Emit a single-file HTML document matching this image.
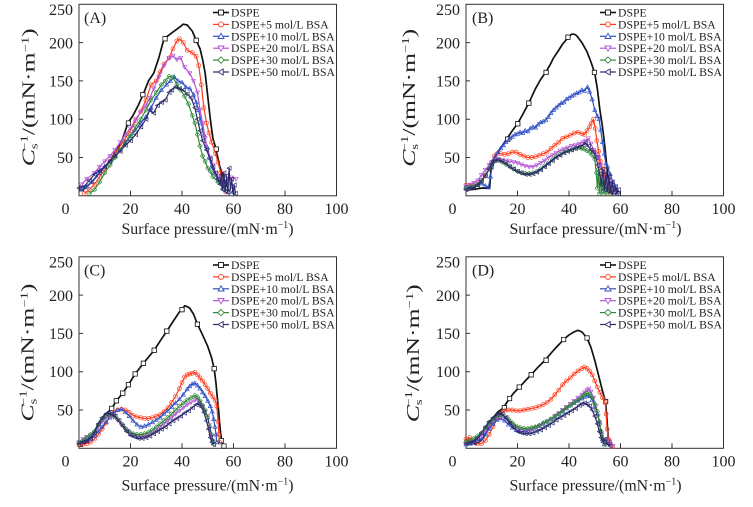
<!DOCTYPE html>
<html><head><meta charset="utf-8"><style>
html,body{margin:0;padding:0;background:#fff;}
svg{display:block;}
text{font-family:"Liberation Serif","Times New Roman",serif;fill:#222;}
.d polyline{fill:none;vector-effect:non-scaling-stroke;stroke-linejoin:round;stroke-width:1.2;}
.d polyline.k{stroke:#111;stroke-width:1.7;}
.d polyline.r{stroke:#ff3a1a;marker:url(#mR);}
.d polyline.b{stroke:#2f4fc4;marker:url(#mB);}
.d polyline.p{stroke:#b455d6;marker:url(#mP);}
.d polyline.g{stroke:#2e8a36;marker:url(#mG);}
.d polyline.n{stroke:#2c2a6e;marker:url(#mN);}
.d polyline.km{stroke:none;marker:url(#mK);}
.lg text{font-size:11.7px;}
.tk{font-size:16px;}
</style></head><body>
<svg width="753" height="507" viewBox="0 0 753 507" xmlns="http://www.w3.org/2000/svg">
<defs>
<marker id="mK" viewBox="0 0 10 10" refX="5" refY="5" markerUnits="userSpaceOnUse" markerWidth="2.136" markerHeight="7.18" preserveAspectRatio="none"><rect x="1" y="1" width="8" height="8" fill="#fff" stroke="#111" stroke-width="1.5"/></marker>
<marker id="mR" viewBox="0 0 10 10" refX="5" refY="5" markerUnits="userSpaceOnUse" markerWidth="1.94" markerHeight="6.53" preserveAspectRatio="none"><circle cx="5" cy="5" r="4" fill="none" stroke="#ff3a1a" stroke-width="1.3"/></marker>
<marker id="mB" viewBox="0 0 10 10" refX="5" refY="5" markerUnits="userSpaceOnUse" markerWidth="1.94" markerHeight="6.53" preserveAspectRatio="none"><polygon points="5,9.5 0.8,2 9.2,2" fill="none" stroke="#2f4fc4" stroke-width="1.3"/></marker>
<marker id="mP" viewBox="0 0 10 10" refX="5" refY="5" markerUnits="userSpaceOnUse" markerWidth="1.94" markerHeight="6.53" preserveAspectRatio="none"><polygon points="5,0.5 0.8,8 9.2,8" fill="none" stroke="#b455d6" stroke-width="1.3"/></marker>
<marker id="mG" viewBox="0 0 10 10" refX="5" refY="5" markerUnits="userSpaceOnUse" markerWidth="1.94" markerHeight="6.53" preserveAspectRatio="none"><polygon points="5,0.4 9.6,5 5,9.6 0.4,5" fill="none" stroke="#2e8a36" stroke-width="1.3"/></marker>
<marker id="mN" viewBox="0 0 10 10" refX="5" refY="5" markerUnits="userSpaceOnUse" markerWidth="1.94" markerHeight="6.53" preserveAspectRatio="none"><polygon points="0.5,5 9,0.8 9,9.2" fill="none" stroke="#2c2a6e" stroke-width="1.3"/></marker>
<g id="legend" class="lg">
 <line x1="134" y1="8.2" x2="150" y2="8.2" stroke="#111" stroke-width="1.6"/><rect x="139.5" y="5.7" width="5" height="5" fill="#fff" stroke="#111" stroke-width="0.9"/>
 <text x="152" y="12.2">DSPE</text>
 <line x1="134" y1="20.1" x2="150" y2="20.1" stroke="#ff3a1a" stroke-width="1.2"/><circle cx="142" cy="20.1" r="2.5" fill="#fff" stroke="#ff3a1a" stroke-width="0.9"/>
 <text x="152" y="24.1">DSPE+5 mol/L BSA</text>
 <line x1="134" y1="32" x2="150" y2="32" stroke="#2f4fc4" stroke-width="1.2"/><polygon points="142,29 139,34.2 145,34.2" fill="#fff" stroke="#2f4fc4" stroke-width="0.9"/>
 <text x="152" y="36">DSPE+10 mol/L BSA</text>
 <line x1="134" y1="43.9" x2="150" y2="43.9" stroke="#b455d6" stroke-width="1.2"/><polygon points="142,46.9 139,41.7 145,41.7" fill="#fff" stroke="#b455d6" stroke-width="0.9"/>
 <text x="152" y="47.9">DSPE+20 mol/L BSA</text>
 <line x1="134" y1="55.8" x2="150" y2="55.8" stroke="#2e8a36" stroke-width="1.2"/><polygon points="142,52.6 145.2,55.8 142,59 138.8,55.8" fill="#fff" stroke="#2e8a36" stroke-width="0.9"/>
 <text x="152" y="59.8">DSPE+30 mol/L BSA</text>
 <line x1="134" y1="67.7" x2="150" y2="67.7" stroke="#2c2a6e" stroke-width="1.2"/><polygon points="139,67.7 144.2,64.7 144.2,70.7" fill="#fff" stroke="#2c2a6e" stroke-width="0.9"/>
 <text x="152" y="71.7" textLength="104" lengthAdjust="spacingAndGlyphs">DSPE+50 mol/L BSA</text>
</g>
<g id="frame">
 <rect x="0" y="0" width="257.5" height="191.5" fill="none" stroke="#333" stroke-width="1"/>
 <path d="M0,38.3h4M0,76.6h4M0,114.9h4M0,153.2h4M51.5,191.5v-5M103,191.5v-5M154.5,191.5v-5M206,191.5v-5" stroke="#333" stroke-width="1" fill="none"/>
 <text class="tk" x="-6" y="10.5" text-anchor="end">250</text>
 <text class="tk" x="-6" y="44" text-anchor="end">200</text>
 <text class="tk" x="-6" y="82" text-anchor="end">150</text>
 <text class="tk" x="-6" y="120.3" text-anchor="end">100</text>
 <text class="tk" x="-6" y="158.6" text-anchor="end">50</text>
 <text class="tk" x="-13.5" y="209.5" text-anchor="middle">0</text>
 <text class="tk" x="51.5" y="209.5" text-anchor="middle">20</text>
 <text class="tk" x="103" y="209.5" text-anchor="middle">40</text>
 <text class="tk" x="154.5" y="209.5" text-anchor="middle">60</text>
 <text class="tk" x="206" y="209.5" text-anchor="middle">80</text>
 <text class="tk" x="257.5" y="209.5" text-anchor="middle">100</text>
</g>
</defs>
<rect width="753" height="507" fill="#fff"/>

<!-- Panel A -->
<g transform="translate(79,4.3)">
 <use href="#frame"/>
 <use href="#legend"/>
 <text x="5" y="18.5" font-size="16">(A)</text>
 <text x="128.5" y="229.7" font-size="16" text-anchor="middle" textLength="172" lengthAdjust="spacingAndGlyphs">Surface pressure/(mN·m<tspan font-size="10" dy="-6">−1</tspan><tspan dy="6">)</tspan></text>
 <text transform="translate(-44.5,93) rotate(-90)" font-size="17.5" text-anchor="middle" textLength="138" lengthAdjust="spacingAndGlyphs"><tspan font-style="italic">C</tspan><tspan font-size="10" dy="3">s</tspan><tspan font-size="10" dx="-5" dy="-10">−1</tspan><tspan dy="7">/(mN·m</tspan><tspan font-size="10" dy="-6">−1</tspan><tspan dy="6">)</tspan></text>
 <g class="d" transform="translate(0,191.5) scale(2.575,-0.766)">
  <polyline class="k" points="0.5,10 2,9 3,12 5,18 8,30 10,38 12,45 15,62 17,75 19,95 21,105 23,118 25,133 27,150 29,160 31,180 33,205 35,210 37,215 39,220 40.5,224 42,223 44,215 45.5,203 47,192 48,178 49,160 50,130 51,100 52,75 53.3,60 54.5,40 56,25 57,15 58,10"/>
  <polyline class="km" points="1,10 19.2,95 24.8,132 33.4,205 45.5,203 53.3,61"/>
  <polyline class="r" points="2,3 4,8 6,15 8,25 10,34 12,45 14,55 16,65 18,75 20,85 22,98 24,110 26,125 28,145 30,150 31.5,162 33,172 35,180 36.5,192 38,202 39,205 40.5,200 42,190 44,187 45.5,182 46.5,170 47.5,145 48.5,115 49.5,95 50.5,82 51.5,70 53,55 54,44 55,30 56,15 57,5"/>
  <polyline class="b" points="1,8 3,12 5,18 8,30 10,38 12,45 14,52 16,60 18,70 20,78 22,86 24,95 26,103 28,115 30,128 32,138 34,145 35.5,150 37,155 38.5,150 40,148 41.5,142 43,140 44.5,132 45.5,122 46.5,112 47.5,95 48.5,80 49.5,65 50.5,50 51.5,38 52.5,30 54,20 56,12 58,5"/>
  <polyline class="p" points="1,15 3,22 6,30 8,38 10,45 12,52 14,60 16,70 18,80 20,88 22,100 24,110 26,118 27.5,128 29,140 31,155 33,170 35,180 36.5,183 38,178 39.5,180 41,168 43,160 44.5,150 46,135 47,112 48,95 49,75 50,60 51,50 52,40 53,30 54,25 55,20 56.5,18 58,22 59,24 61,22"/>
  <polyline class="g" points="4,3 6,8 8,18 10,30 12,40 14,50 16,60 18,68 20,78 22,90 24,100 26,112 28,125 30,135 32,145 33.5,150 35,156 36.5,155 38,145 39.5,138 41,130 42.5,120 44,105 45,95 46,80 47,65 48,52 49,45 50,36 51,32 52,25 54,18 56,10"/>
  <polyline class="n" points="0,10 2,12 4,20 6,28 8,33 10,38 12,45 14,52 16,58 18,66 20,72 22,80 24,90 26,100 27.5,112 29,108 30.5,118 32,122 33.5,125 35,135 36,138 37.5,142 39,140 40.5,138 42,133 43.5,128 45,115 46,100 47,85 48,72 49.5,60 51,48 52,38 53,30 54,22 54.8,15 55.3,28 55.8,8 56.3,30 56.8,6 57.3,26 57.8,4 58.3,36 58.8,8 59.3,22 59.8,4 60.3,14 60.8,3"/>
 </g>
</g>

<!-- Panel B -->
<g transform="translate(466,4.3)">
 <use href="#frame"/>
 <use href="#legend"/>
 <text x="6" y="18.5" font-size="16">(B)</text>
 <text x="129.5" y="229.7" font-size="16" text-anchor="middle" textLength="172" lengthAdjust="spacingAndGlyphs">Surface pressure/(mN·m<tspan font-size="10" dy="-6">−1</tspan><tspan dy="6">)</tspan></text>
 <text transform="translate(-51,93.5) rotate(-90)" font-size="17.5" text-anchor="middle" textLength="138" lengthAdjust="spacingAndGlyphs"><tspan font-style="italic">C</tspan><tspan font-size="10" dy="3">s</tspan><tspan font-size="10" dx="-5" dy="-10">−1</tspan><tspan dy="7">/(mN·m</tspan><tspan font-size="10" dy="-6">−1</tspan><tspan dy="6">)</tspan></text>
 <g class="d" transform="translate(0,191.5) scale(2.575,-0.766)">
  <polyline class="k" points="0,10 2,8 4,9 6,10 8,10 9.2,11 9.6,30 10,45 11,50 12,55 14,65 16,75 18,85 20,94 22,106 24.5,122 27,140 29,152 30.7,160 32.5,170 34,180 36,190 37.5,198 39.8,207 41,211 42,211 43,209 45,200 47,188 48.5,175 50,160 51,140 52,112 53,90 53.8,68 54.5,45 55.1,25 56,10 57,1"/>
  <polyline class="km" points="0.5,10 9.7,38 16.2,74 20.1,94 24.4,121 31.1,161 39.6,207 49.9,161"/>
  <polyline class="r" points="0,14 1.5,14 3,13 4.5,15 6,20 7.5,26 9,35 10,44 11,52 12,55 13.5,55 15,54 16.5,55 18,57 19.5,57 21,54 22.5,52 24,50 25.5,50 27,51 28.5,53 30,55 31.5,57 33,62 34.5,66 36,70 37.5,75 39,77 40.5,79 42,82 43.5,83 45,81 46,80 47,85 48,90 48.7,95 49.5,100 50.2,88 50.8,72 51.5,58 52.2,45 53,35 53.8,28 54.5,20 55.3,12 56,5"/>
  <polyline class="b" points="0,12 1.5,13 3,12 4.5,14 6,16 7.5,13 8.7,11 9.5,25 10.5,45 11.5,52 12.5,57 13.5,62 14.5,66 15.5,70 17,75 18,77 19,80 20,81 21,83 22,82 23,85 24,84 25,88 26,90 27,89 28,93 29,96 30,97 31,99 32,103 33,108 34,112 35,115 36,118 37,121 38,122 39,126 40,128 41,130 42,132 43,134 44,135 45,138 46,137 47.2,142 48,136 49,126 50,112 51,104 51.7,100 52.3,86 53,70 53.7,55 54.3,42 55,38 56,28 57,18 58,12 59,5"/>
  <polyline class="p" points="0,12 1.5,14 3,17 4.5,20 6,27 7.5,34 9,40 10,44 11,46 12.5,48 14,47 15.5,46 17,45 18.5,44 20,43 21.5,41 23,39 24.5,38 26,38 27.5,40 29,43 30.5,46 32,50 33.5,53 35,56 36.5,59 38,61 39.5,63 41,65 42.5,66 44,68 45.5,70 46.5,72 47.5,75 48.5,68 49.5,60 50.5,55 51.5,50 52.3,40 53,30 53.7,22 54.5,15 55.5,20 56.5,12 57.5,8 58.5,5"/>
  <polyline class="g" points="0,10 1.5,11 3,12 4.5,15 6,20 7.5,27 9,35 10,41 11,45 12.5,46 14,44 15.5,41 17,38 18.5,35 20,32 21.5,30 23,29 24.5,29 26,30 27.5,32 29,35 30.5,39 32,43 33.5,47 35,51 36.5,54 38,57 39.5,59 41,60 42.5,62 44,63 45,62 46,61 47,59 48,57 49,53 50,48 50.6,30 51,10 51.4,35 51.8,3 52.2,25 52.6,5 53,20 53.5,3 54,18 54.5,4 55,12 56,3"/>
  <polyline class="n" points="0,8 1.5,10 3,10 4.5,14 6,19 7.5,26 9,35 10,42 11,46 12.5,47 14,45 15.5,42 17,38 18.5,35 20,32 21.5,30 23,28 24.5,28 26,29 27.5,31 29,34 30.5,38 32,42 33.5,46 35,50 36.5,53 38,56 39.5,58 41,60 42.5,62 44,64 45.5,66 46.5,69 47.5,65 48.5,60 49.5,57 50.5,50 51.2,40 52,28 52.6,15 53.2,35 53.8,8 54.4,30 55,6 55.6,25 56.2,5 56.8,18 57.4,4 58,12 58.6,3 59.2,8"/>
 </g>
</g>

<!-- Panel C -->
<g transform="translate(79,256.8)">
 <use href="#frame"/>
 <use href="#legend"/>
 <text x="5" y="18.5" font-size="16">(C)</text>
 <text x="128.5" y="233.5" font-size="16" text-anchor="middle" textLength="172" lengthAdjust="spacingAndGlyphs">Surface pressure/(mN·m<tspan font-size="10" dy="-6">−1</tspan><tspan dy="6">)</tspan></text>
 <text transform="translate(-45.5,95.7) rotate(-90)" font-size="17.5" text-anchor="middle" textLength="138" lengthAdjust="spacingAndGlyphs"><tspan font-style="italic">C</tspan><tspan font-size="10" dy="3">s</tspan><tspan font-size="10" dx="-5" dy="-10">−1</tspan><tspan dy="7">/(mN·m</tspan><tspan font-size="10" dy="-6">−1</tspan><tspan dy="6">)</tspan></text>
 <g class="d" transform="translate(0,191.5) scale(2.575,-0.766)">
  <polyline class="k" points="0,5 2,6 4,10 6,22 8,35 10,44 11.5,48 12.7,52 14.5,62 17,72 19.2,83 21.8,97 25,111 29.2,128 31.5,140 34.1,153 37,168 39,178 40,181 41,186 42,185 43,183 44.5,175 46,162 48,148 50,133 51.5,118 52.5,104 53.2,85 53.6,70 54.2,50 54.7,30 55,20 55.5,8 56.3,3"/>
  <polyline class="km" points="0.5,5 12.7,52 14.5,62 17,72 19.2,83 21.8,97 25,111 29.2,128 34.1,153 40,181 46,162 52.5,104 55.2,10 56.3,3"/>
  <polyline class="r" points="0,5 1.5,5 3,6 4.5,8 6,12 7.5,18 9,25 10.5,33 12,42 13.5,47 15,50 16.5,51 18,50 19.5,47 21,43 22.5,41 24,40 25.5,39 27,39 28.5,40 30,42 31.5,44 33,48 34.5,53 36,60 37.5,68 39,78 40,86 41,93 42,96 43,97 44,98 45,99 46,96 47,92 48,88 49,83 50,78 51,72 52,67 53,62 53.5,55 54,35 54.3,18 54.6,8"/>
  <polyline class="b" points="0,8 1.5,9 3,10 4.5,12 6,16 7.5,22 9,28 10.5,34 12,40 13.5,46 15,50 16.5,51 18,47 19.5,42 21,36 22.5,31 24,28 25.5,29 27,31 28.5,34 30,37 31.5,40 33,45 34.5,49 36,54 37.5,59 39,64 40.5,70 42,77 43,81 44,84 45,85 46,82 47,78 48,73 49,68 50,62 51,55 51.7,48 52.3,38 52.8,28 53.2,18 53.5,8"/>
  <polyline class="p" points="0,8 1.5,12 3,15 4.5,17 6,20 7.5,28 9,35 10.5,40 12,42 13.5,41 15,37 16.5,31 18,25 19.5,21 21,18 22.5,16 24,15 25.5,16 27,18 28.5,21 30,24 31.5,28 33,32 34.5,36 36,40 37.5,45 39,49 40.5,53 42,57 43.5,60 45,63 46,64 47,60 48,54 49,48 50,42 50.6,30 51.2,16 51.8,10"/>
  <polyline class="g" points="0,8 1.5,10 3,14 4.5,18 6,22 7.5,30 9,37 10.5,42 12,44 13.5,42 15,38 16.5,32 18,26 19.5,22 21,19 22.5,18 24,18 25.5,19 27,21 28.5,24 30,28 31.5,32 33,36 34.5,40 36,45 37.5,50 39,55 40.5,59 42,63 43.5,66 45,69 46,67 47,62 48,56 49,50 50,40 50.8,28 51.5,18 52,10 52.5,5"/>
  <polyline class="n" points="0,6 1.5,8 3,10 4.5,14 6,20 7.5,32 9,40 10.5,45 11.5,46 12.5,45 14,42 15.5,36 17,29 18.5,22 20,17 21.5,15 23,13 24.5,13 26,14 27.5,16 29,19 30.5,22 32,25 33.5,28 35,32 36.5,36 38,39 39.5,42 41,46 42.5,49 44,53 45.5,57 46.5,58 47.5,54 48.5,47 49.5,36 50.3,25 51,14 51.6,8 52.2,5"/>
 </g>
</g>

<!-- Panel D -->
<g transform="translate(466,256.8)">
 <use href="#frame"/>
 <use href="#legend"/>
 <text x="6" y="18.5" font-size="16">(D)</text>
 <text x="129.5" y="233.5" font-size="16" text-anchor="middle" textLength="172" lengthAdjust="spacingAndGlyphs">Surface pressure/(mN·m<tspan font-size="10" dy="-6">−1</tspan><tspan dy="6">)</tspan></text>
 <text transform="translate(-47,96.5) rotate(-90)" font-size="17.5" text-anchor="middle" textLength="138" lengthAdjust="spacingAndGlyphs"><tspan font-style="italic">C</tspan><tspan font-size="10" dy="3">s</tspan><tspan font-size="10" dx="-5" dy="-10">−1</tspan><tspan dy="7">/(mN·m</tspan><tspan font-size="10" dy="-6">−1</tspan><tspan dy="6">)</tspan></text>
 <g class="d" transform="translate(0,191.5) scale(2.575,-0.766)">
  <polyline class="k" points="0,10 0.7,6 1.4,10 2.1,5 2.8,9 3.5,5 5,8 7,15 9,28 11,42 12.5,48 14.3,52 16.9,65 18.5,72 20.8,80 23,88 25.3,96 28,106 30.7,115 34,128 37.9,142 40,148 42,152 43.5,154 45,152 47,144 48.5,132 50,115 51.5,95 53,75 54.2,61 54.8,35 55.2,15 56,3"/>
  <polyline class="km" points="0.5,8 14.9,53 16.9,65 20.7,80 25.3,96 31.1,115 37.9,142 47,144 54.2,61 55.5,8"/>
  <polyline class="r" points="0,12 1.5,14 3,10 4.5,6 6,6 7.5,10 9,18 10.5,28 12,38 13.5,45 15,49 16.5,50 18,50 19.5,49 21,49 22.5,50 24,51 25.5,52 27,53 28.5,55 30,57 31.5,60 33,64 34.5,70 36,76 37.5,83 39,88 40.5,92 42,97 43.5,101 45,104 46,106 47,104 48,101 49,96 50,88 51,80 52,73 53,66 54,60 54.4,45 54.8,25 55.3,12 56,6 57,2"/>
  <polyline class="b" points="0,5 1.5,6 3,7 4.5,10 6,12 7.5,18 9,25 10.5,32 12,37 13.5,39 15,36 16.5,31 18,27 19.5,24 21,22 22.5,22 24,23 25.5,25 27,27 28.5,29 30,32 31.5,35 33,38 34.5,41 36,45 37.5,48 39,52 40.5,56 42,59 43.5,62 45,65 46,67 47,69 48,68 49,63 50,55 51,45 51.7,35 52.3,22 53,12 53.7,5"/>
  <polyline class="p" points="0,6 1.5,8 3,10 4.5,13 6,17 7.5,23 9,30 10.5,36 12,40 13.5,42 15,40 16.5,36 18,31 19.5,27 21,25 22.5,24 24,24 25.5,25 27,27 28.5,29 30,32 31.5,35 33,38 34.5,42 36,46 37.5,50 39,54 40.5,58 42,62 43.5,66 45,70 46,73 47,76 47.7,78 48.5,74 49.5,66 50.5,55 51.3,42 52,30 52.7,18 53.3,10 54,6 55,12 56,6 57,3"/>
  <polyline class="g" points="0,8 1.5,10 3,13 4.5,16 6,20 7.5,26 9,33 10.5,38 12,42 13.5,44 15,42 16.5,38 18,33 19.5,29 21,27 22.5,26 24,26 25.5,27 27,28 28.5,30 30,33 31.5,35 33,38 34.5,42 36,45 37.5,49 39,53 40.5,56 42,60 43.5,63 45,67 46,70 47,72 48,71 49,66 50,58 51,48 51.8,35 52.5,22 53.2,12 54,5"/>
  <polyline class="n" points="0,6 1.5,7 3,9 4.5,13 6,20 7.5,28 9,35 10.5,40 12,44 13,46 14,45 15.5,40 17,33 18.5,27 20,22 21.5,20 23,19 24.5,19 26,20 27.5,22 29,24 30.5,27 32,30 33.5,33 35,37 36.5,40 38,43 39.5,46 41,49 42.5,52 44,56 45,58 46,59 47,58 48,55 49,50 50,42 51,32 51.8,22 52.5,14 53.2,8 54,12 55,6 56,3"/>
 </g>
</g>
</svg>
</body></html>
